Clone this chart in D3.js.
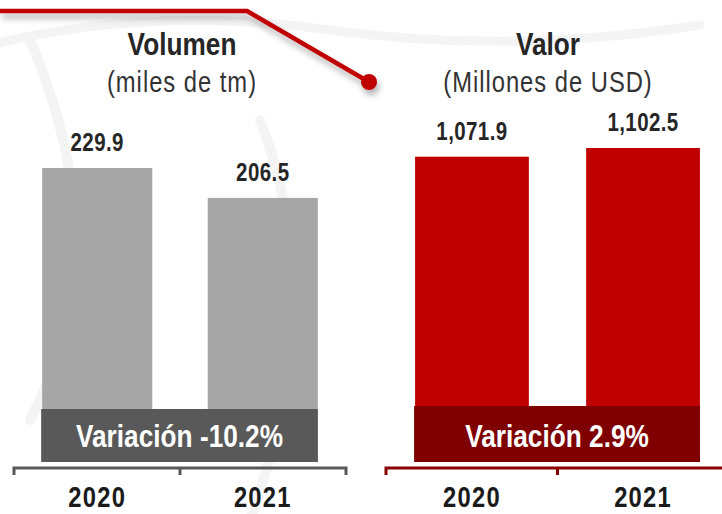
<!DOCTYPE html>
<html>
<head>
<meta charset="utf-8">
<script src="https://cdn.jsdelivr.net/npm/d3@7"></script>
<style>
  body { margin: 0; background: #fff; }
  svg { display: block; }
  text { font-family: "Liberation Sans", Arial, sans-serif; }
</style>
</head>
<body>
<div id="chart"></div>
<script>
// data
const years = ["2020", "2021"];
const volumen = [229.9, 206.5];
const valor = [1071.9, 1102.5];
const volumenLabels = ["229.9", "206.5"];
const valorLabels = ["1,071.9", "1,102.5"];
const variaciones = ["Variación -10.2%", "Variación 2.9%"];
const titles = ["Volumen", "Valor"];
const subtitles = ["(miles de tm)", "(Millones de USD)"];

const W = 722, H = 514;
const baseY = 462;
const squeeze = 0.82; // fake a condensed face

const svg = d3.select("#chart").append("svg")
  .attr("width", W).attr("height", H);

// centered, horizontally squeezed text
function ctext(g, x, y, size, bold, fill, txt, ls) {
  return g.append("text")
    .attr("transform", `translate(${x},${y}) scale(${squeeze},1)`)
    .attr("text-anchor", "middle")
    .attr("font-size", size)
    .attr("font-weight", bold ? "bold" : "normal")
    .attr("letter-spacing", ls || 0)
    .attr("fill", fill)
    .text(txt);
}

const defs = svg.append("defs");
const f = defs.append("filter").attr("id", "shadow")
  .attr("x", "-20%").attr("y", "-50%").attr("width", "140%").attr("height", "200%");
f.append("feDropShadow").attr("dx", 2).attr("dy", 5).attr("stdDeviation", 3)
  .attr("flood-color", "#000").attr("flood-opacity", 0.3);

// faint watermark swooshes
const wm = svg.append("g").attr("fill", "none").attr("stroke", "#f4f4f4").attr("stroke-linecap", "round");
wm.append("path").attr("d", "M-10,45 Q150,5 330,30 T700,25").attr("stroke-width", 9);
wm.append("path").attr("d", "M30,40 Q120,250 30,420").attr("stroke-width", 10);
wm.append("path").attr("d", "M260,120 Q330,300 250,520").attr("stroke-width", 10);

// red connector line
svg.append("g").attr("filter", "url(#shadow)")
  .call(g => {
    g.append("polyline")
      .attr("points", "0,11 247,11 369,82")
      .attr("fill", "none").attr("stroke", "#c00000").attr("stroke-width", 4.5)
      .attr("stroke-linejoin", "miter");
    g.append("circle").attr("cx", 369).attr("cy", 82).attr("r", 8).attr("fill", "#c00000");
  });

const panels = [
  { values: volumen, labels: volumenLabels, range: [14, 346], top: 168, barColor: "#a6a6a6",
    boxColor: "#595959", boxTop: 409, bracket: "#595959", titleX: 182 },
  { values: valor, labels: valorLabels, range: [386, 729], top: 148, barColor: "#c00000",
    boxColor: "#7f0000", boxTop: 406, bracket: "#8b0000", titleX: 548 }
];

panels.forEach(function (p, k) {
  const g = svg.append("g");

  const x = d3.scaleBand().domain(years).range(p.range)
    .paddingInner(0.335).paddingOuter(0.17);
  const y = d3.scaleLinear().domain([0, d3.max(p.values)]).range([baseY, p.top]);

  // titles
  ctext(g, p.titleX, 55, 32, true, "#262626", titles[k]);
  ctext(g, p.titleX, 92, 29, false, "#333", subtitles[k], 1.2);

  // bars
  g.selectAll("rect.bar").data(p.values).enter().append("rect")
    .attr("class", "bar")
    .attr("x", (d, i) => x(years[i]))
    .attr("y", d => y(d))
    .attr("width", x.bandwidth())
    .attr("height", d => baseY - y(d))
    .attr("fill", p.barColor);

  // value labels
  p.values.forEach(function (d, i) {
    ctext(g, x(years[i]) + x.bandwidth() / 2, y(d) - 17, 25, true, "#262626", p.labels[i], 0.5);
  });

  // variation box
  const bx0 = x(years[0]) - 1, bx1 = x(years[1]) + x.bandwidth();
  g.append("rect").attr("x", bx0).attr("y", p.boxTop)
    .attr("width", bx1 - bx0).attr("height", baseY - p.boxTop)
    .attr("fill", p.boxColor);
  ctext(g, (bx0 + bx1) / 2, 447, 32, true, "#fff", variaciones[k]);

  // bracket axis
  const r0 = p.range[0], r1 = p.range[1], mid = (r0 + r1) / 2;
  g.append("path")
    .attr("d", `M${r0},475 V468 H${r1} V475 M${mid},468 V475`)
    .attr("fill", "none").attr("stroke", p.bracket).attr("stroke-width", 3);

  // year labels
  years.forEach(function (d) {
    ctext(g, x(d) + x.bandwidth() / 2, 507, 29, true, "#1a1a1a", d, 1.5);
  });
});
</script>
</body>
</html>
